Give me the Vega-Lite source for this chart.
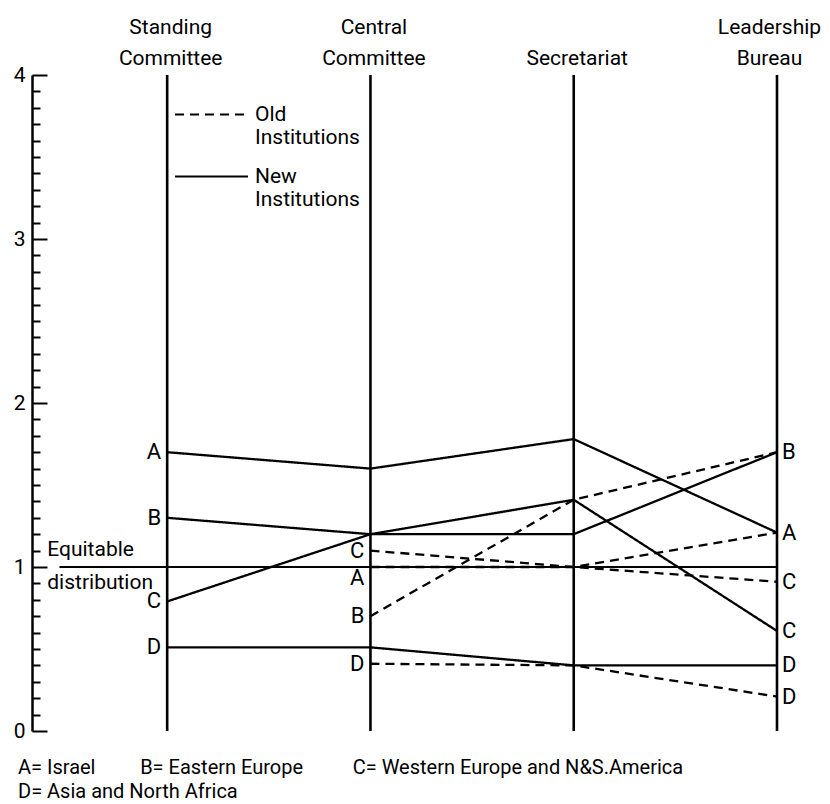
{
  "$schema": "https://vega.github.io/schema/vega-lite/v6.json",
  "width": 745,
  "height": 656,
  "autosize": {"type": "none"},
  "padding": {"left": 32, "top": 75, "right": 53, "bottom": 73},
  "background": "white",
  "config": {
    "view": {"stroke": null},
    "font": "Roboto",
    "text": {"font": "Roboto", "color": "black"}
  },
  "title": {
    "text": ["A= Israel\u00a0\u00a0\u00a0\u00a0\u00a0\u00a0\u00a0\u00a0\u00a0B= Eastern Europe\u00a0\u00a0\u00a0\u00a0\u00a0\u00a0\u00a0\u00a0\u00a0\u00a0C= Western Europe and N&S.America", "D= Asia and North Africa"],
    "orient": "bottom",
    "anchor": "start",
    "frame": "group",
    "fontSize": 20,
    "fontWeight": "normal",
    "font": "Roboto",
    "color": "black",
    "offset": 17,
    "dx": -14,
    "lineHeight": 24
  },
  "datasets": {
    "cols": [
      {"col": 0, "committee": "Standing Committee"},
      {"col": 1, "committee": "Central Committee"},
      {"col": 2, "committee": "Secretariat"},
      {"col": 3, "committee": "Leadership Bureau"}
    ],
    "lines": [
      {"inst": "New Institutions", "region": "A", "col": 0, "value": 1.70, "side": "left"},
      {"inst": "New Institutions", "region": "A", "col": 1, "value": 1.60, "side": ""},
      {"inst": "New Institutions", "region": "A", "col": 2, "value": 1.78, "side": ""},
      {"inst": "New Institutions", "region": "A", "col": 3, "value": 1.21, "side": "right"},
      {"inst": "New Institutions", "region": "B", "col": 0, "value": 1.30, "side": "left"},
      {"inst": "New Institutions", "region": "B", "col": 1, "value": 1.20, "side": ""},
      {"inst": "New Institutions", "region": "B", "col": 2, "value": 1.20, "side": ""},
      {"inst": "New Institutions", "region": "B", "col": 3, "value": 1.70, "side": "right"},
      {"inst": "New Institutions", "region": "C", "col": 0, "value": 0.79, "side": "left"},
      {"inst": "New Institutions", "region": "C", "col": 1, "value": 1.20, "side": ""},
      {"inst": "New Institutions", "region": "C", "col": 2, "value": 1.41, "side": ""},
      {"inst": "New Institutions", "region": "C", "col": 3, "value": 0.61, "side": "right"},
      {"inst": "New Institutions", "region": "D", "col": 0, "value": 0.51, "side": "left"},
      {"inst": "New Institutions", "region": "D", "col": 1, "value": 0.51, "side": ""},
      {"inst": "New Institutions", "region": "D", "col": 2, "value": 0.40, "side": ""},
      {"inst": "New Institutions", "region": "D", "col": 3, "value": 0.40, "side": "right"},
      {"inst": "Old Institutions", "region": "A", "col": 1, "value": 1.00, "side": "left"},
      {"inst": "Old Institutions", "region": "A", "col": 2, "value": 1.00, "side": ""},
      {"inst": "Old Institutions", "region": "A", "col": 3, "value": 1.21, "side": ""},
      {"inst": "Old Institutions", "region": "B", "col": 1, "value": 0.70, "side": "left"},
      {"inst": "Old Institutions", "region": "B", "col": 2, "value": 1.41, "side": ""},
      {"inst": "Old Institutions", "region": "B", "col": 3, "value": 1.70, "side": ""},
      {"inst": "Old Institutions", "region": "C", "col": 1, "value": 1.10, "side": "left"},
      {"inst": "Old Institutions", "region": "C", "col": 2, "value": 1.00, "side": ""},
      {"inst": "Old Institutions", "region": "C", "col": 3, "value": 0.91, "side": "right"},
      {"inst": "Old Institutions", "region": "D", "col": 1, "value": 0.41, "side": "left"},
      {"inst": "Old Institutions", "region": "D", "col": 2, "value": 0.40, "side": ""},
      {"inst": "Old Institutions", "region": "D", "col": 3, "value": 0.21, "side": "right"}
    ]
  },
  "layer": [
    {
      "data": {"name": "lines"},
      "mark": {"type": "line", "color": "black", "strokeWidth": 2.3},
      "encoding": {
        "x": {
          "field": "col",
          "type": "quantitative",
          "scale": {"domain": [-0.665, 3], "nice": false, "zero": false},
          "axis": {
            "orient": "top",
            "values": [0, 1, 2, 3],
            "tickCount": 10,
            "labelExpr": "datum.value == 0 ? ['Standing', 'Committee'] : datum.value == 1 ? ['Central', 'Committee'] : datum.value == 2 ? ['', 'Secretariat'] : ['Leadership', 'Bureau']",
            "domain": false,
            "ticks": false,
            "grid": false,
            "title": null,
            "labelFontSize": 21,
            "labelBaseline": "top",
            "labelPadding": 59,
            "labelOffset": {"condition": {"test": "datum.value == 3", "value": -8}, "value": 3},
            "labelColor": "black",
            "labelFont": "Roboto",
            "labelFlush": false,
            "labelOverlap": false,
            "labelLineHeight": 31
          }
        },
        "y": {
          "field": "value",
          "type": "quantitative",
          "scale": {"domain": [0, 4], "nice": false},
          "axis": {
            "values": [0, 0.1, 0.2, 0.3, 0.4, 0.5, 0.6, 0.7, 0.8, 0.9, 1, 1.1, 1.2, 1.3, 1.4, 1.5, 1.6, 1.7, 1.8, 1.9, 2, 2.1, 2.2, 2.3, 2.4, 2.5, 2.6, 2.7, 2.8, 2.9, 3, 3.1, 3.2, 3.3, 3.4, 3.5, 3.6, 3.7, 3.8, 3.9, 4],
            "tickCount": 100,
            "labelExpr": "abs(datum.value - round(datum.value)) < 0.001 ? format(datum.value, 'd') : ''",
            "tickSize": -15,
            "tickDash": {"condition": {"test": "abs(datum.value - round(datum.value)) < 0.001", "value": [15, 0]}, "value": [8, 30]},
            "labelPadding": 22,
            "grid": false,
            "title": null,
            "domainColor": "black",
            "domainWidth": 2.5,
            "tickColor": "black",
            "tickWidth": 2,
            "labelColor": "black",
            "labelFontSize": 21,
            "labelFont": "Roboto",
            "labelOverlap": false,
            "labelFlush": false
          }
        },
        "strokeDash": {
          "field": "inst",
          "type": "nominal",
          "scale": {"domain": ["Old Institutions", "New Institutions"], "range": [[9, 6], [1, 0]]},
          "legend": {
            "title": null,
            "orient": "none",
            "legendX": 169,
            "legendY": 29,
            "padding": 0,
            "symbolType": "M-4,0H4",
            "symbolSize": 333,
            "symbolStrokeWidth": 2,
            "symbolStrokeColor": "black",
            "labelExpr": "split(datum.label, ' ')",
            "labelFontSize": 21,
            "labelFont": "Roboto",
            "labelColor": "black",
            "labelBaseline": "middle",
            "labelOffset": 33,
            "labelLineHeight": 27,
            "rowPadding": 17,
            "labelLimit": 300
          }
        },
        "detail": {"field": "region"},
        "order": {"field": "col"}
      }
    },
    {
      "data": {"name": "cols"},
      "mark": {"type": "rule", "color": "black", "strokeWidth": 2.6},
      "encoding": {
        "x": {"field": "col", "type": "quantitative"}
      }
    },
    {
      "data": {"values": [{}]},
      "mark": {"type": "rule", "color": "black", "strokeWidth": 2},
      "encoding": {
        "x": {"datum": -0.53, "type": "quantitative"},
        "x2": {"datum": 3},
        "y": {"datum": 1, "type": "quantitative"}
      }
    },
    {
      "data": {"values": [{}]},
      "mark": {"type": "text", "text": ["Equitable", "distribution"], "align": "left", "baseline": "middle", "dy": -17, "fontSize": 21, "lineHeight": 33, "color": "black"},
      "encoding": {
        "x": {"datum": -0.59, "type": "quantitative"},
        "y": {"datum": 1, "type": "quantitative"}
      }
    },
    {
      "data": {"name": "lines"},
      "transform": [{"filter": "datum.side == 'left' && !(datum.region == 'A' && datum.inst == 'Old Institutions')"}],
      "mark": {"type": "text", "align": "right", "baseline": "middle", "dx": -6, "fontSize": 22, "color": "black"},
      "encoding": {
        "x": {"field": "col", "type": "quantitative"},
        "y": {"field": "value", "type": "quantitative"},
        "text": {"field": "region"}
      }
    },
    {
      "data": {"name": "lines"},
      "transform": [{"filter": "datum.side == 'left' && datum.region == 'A' && datum.inst == 'Old Institutions'"}],
      "mark": {"type": "text", "align": "right", "baseline": "middle", "dx": -6, "dy": 11, "fontSize": 22, "color": "black"},
      "encoding": {
        "x": {"field": "col", "type": "quantitative"},
        "y": {"field": "value", "type": "quantitative"},
        "text": {"field": "region"}
      }
    },
    {
      "data": {"name": "lines"},
      "transform": [{"filter": "datum.side == 'right'"}],
      "mark": {"type": "text", "align": "left", "baseline": "middle", "dx": 5, "fontSize": 22, "color": "black"},
      "encoding": {
        "x": {"field": "col", "type": "quantitative"},
        "y": {"field": "value", "type": "quantitative"},
        "text": {"field": "region"}
      }
    }
  ]
}
